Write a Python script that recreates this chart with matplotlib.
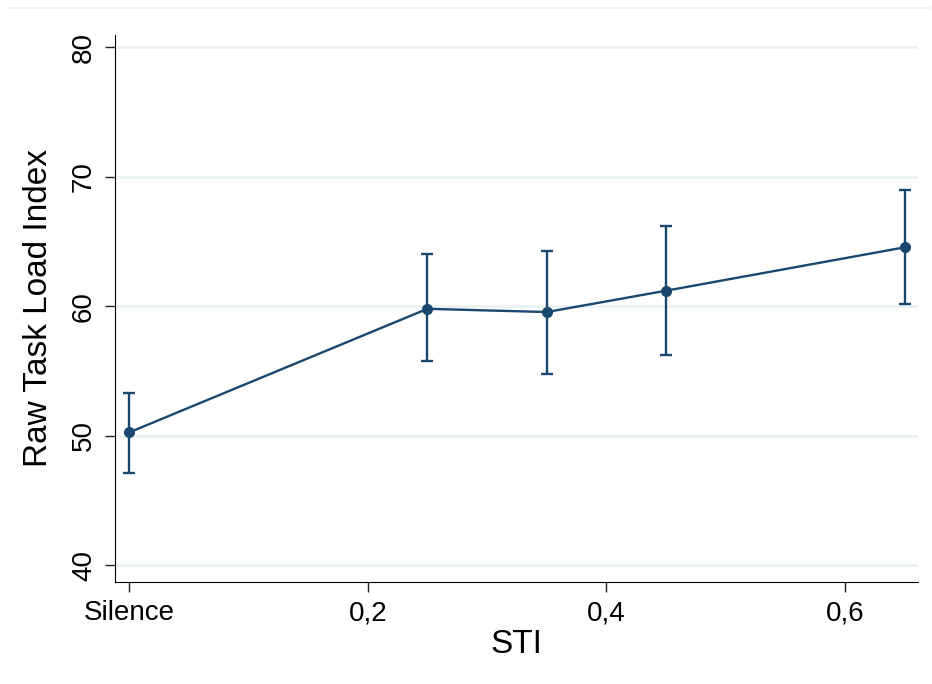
import numpy as np
import matplotlib.pyplot as plt
from matplotlib.lines import Line2D

plt.rcParams['font.family'] = ['Liberation Sans', 'DejaVu Sans']

# mean raw TLX per STI condition, with upper / lower CI limits
sti = [0.0, 0.25, 0.35, 0.45, 0.65]
tlx_mean = [50.25, 59.8, 59.55, 61.2, 64.55]
ci_upper = [53.3, 64.0, 64.25, 66.2, 68.95]
ci_lower = [47.15, 55.75, 54.8, 56.2, 60.2]

xtick_pos = [0.0, 0.2, 0.4, 0.6]
xtick_labels = ['Silence', '0,2', '0,4', '0,6']
ytick_pos = [40, 50, 60, 70, 80]

navy = '#1a476f'

fig = plt.figure(figsize=(9.32, 6.84), dpi=100)
ax = fig.add_axes([0.1234, 0.149, 0.8616, 0.8])

mean = np.array(tlx_mean)
yerr = [mean - np.array(ci_lower), np.array(ci_upper) - mean]
ax.errorbar(sti, mean, yerr=yerr, color=navy, lw=1.7, marker='o', ms=7,
            capsize=4, capthick=1.7, elinewidth=1.7, zorder=3)

ax.set_xlim(-0.0117, 0.661)
ax.set_ylim(38.7, 80.95)
ax.set_xticks(xtick_pos)
ax.set_xticklabels(xtick_labels)
ax.set_yticks(ytick_pos)
ax.set_yticklabels([str(v) for v in ytick_pos], rotation=90, va='center')

for v in ytick_pos:
    ax.axhline(v, color='#eaf2f3', lw=2, zorder=0)

ax.spines['top'].set_visible(False)
ax.spines['right'].set_visible(False)
ax.tick_params(axis='both', labelsize=20, length=7, width=1, color='#222222', pad=6)

ax.set_xlabel('STI', fontsize=24, labelpad=2)
ax.set_ylabel('Raw Task Load Index', fontsize=24, labelpad=12)

# faint frame line along the top of the graph region
fig.add_artist(Line2D([0.01, 0.998], [0.988, 0.988], color='#eaf2f3', lw=1.5))

fig.savefig('out.png', dpi=100)
